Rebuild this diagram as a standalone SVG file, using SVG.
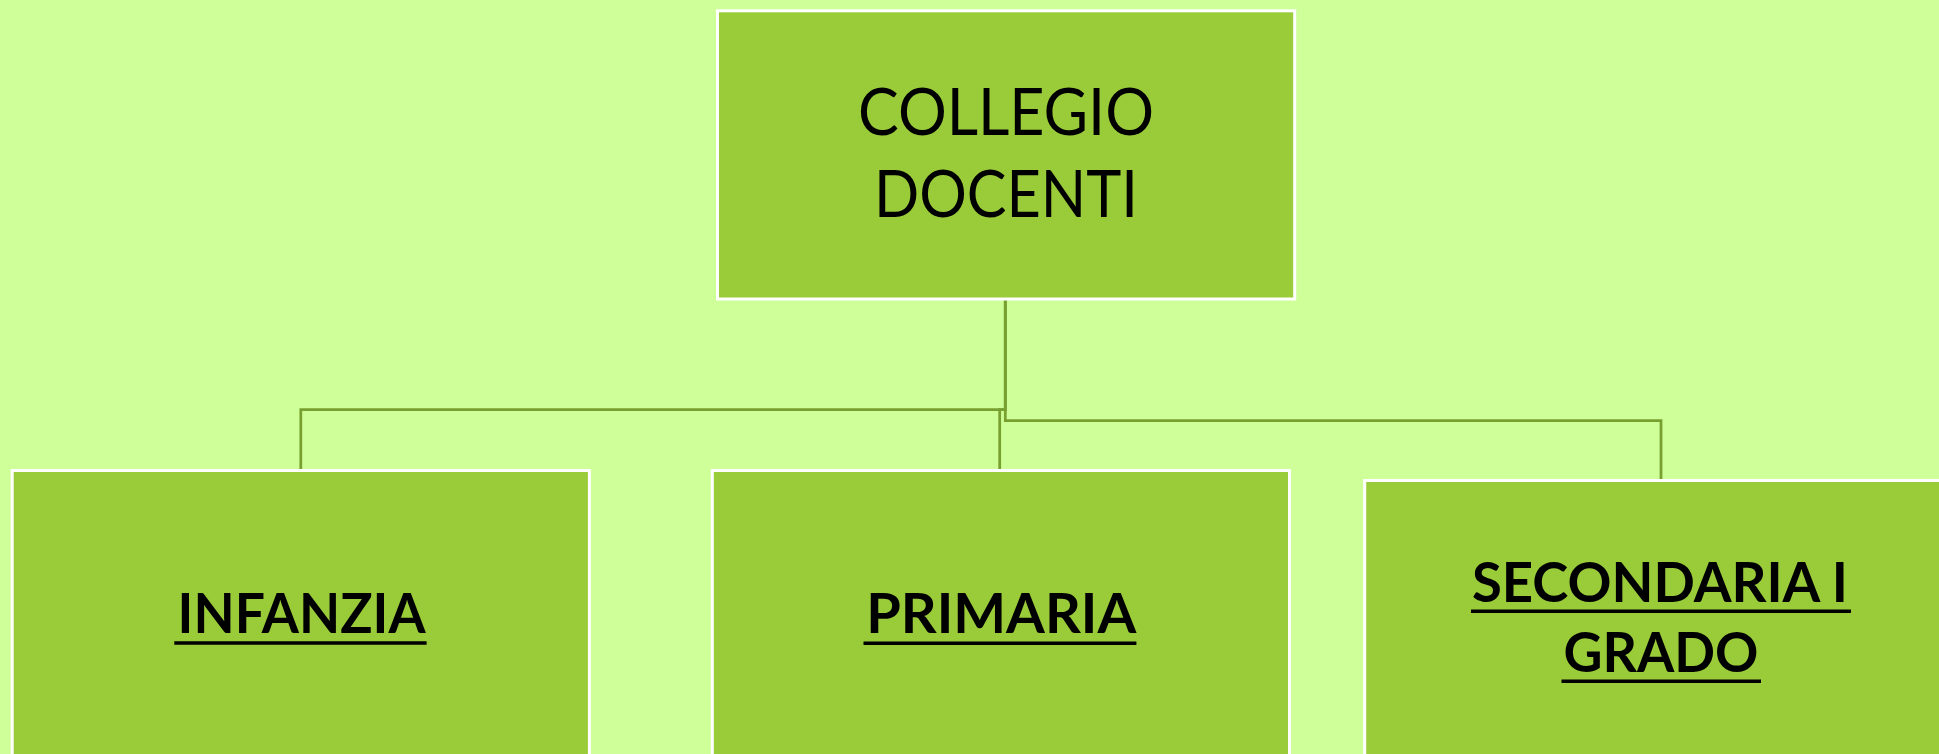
<svg xmlns="http://www.w3.org/2000/svg" width="1939" height="754" viewBox="0 0 1939 754">
  <style>
    .box { fill: #9ACC39; stroke: #FFFFFF; stroke-width: 3; }
    .conn { fill: none; stroke: #78A030; stroke-width: 2.75; }
    .title { font-family: Lato, "Noto Sans", "Liberation Sans", sans-serif; font-size: 65px; fill: #000000; text-anchor: middle; }
    .label { font-family: Lato, "Noto Sans", "Liberation Sans", sans-serif; font-size: 56px; font-weight: bold; fill: #000000; text-anchor: middle; }
    .ul { stroke: #000000; stroke-width: 3.5; }
  </style>
  <rect x="0" y="0" width="1939" height="754" fill="#CFFF99"/>
  <g id="connectors">
    <path class="conn" d="M1005.3,300 V409.5 H300.8 V469"/>
    <path class="conn" d="M1005.3,300 V409.5 H999.7 V469"/>
    <path class="conn" d="M1005.3,300 V420.5 H1661 V479"/>
  </g>
  <g id="collegio-docenti">
    <rect class="box" x="717.5" y="10.8" width="577.2" height="288.2"/>
    <text class="title" x="1006" y="135.3" textLength="296" lengthAdjust="spacingAndGlyphs">COLLEGIO</text>
    <text class="title" x="1006" y="217" textLength="264" lengthAdjust="spacingAndGlyphs">DOCENTI</text>
  </g>
  <g id="infanzia">
    <rect class="box" x="12.2" y="470.5" width="577.2" height="300"/>
    <text class="label" x="301.6" y="633.3" textLength="248" lengthAdjust="spacingAndGlyphs">INFANZIA</text>
    <line class="ul" x1="174.3" y1="643" x2="426.6" y2="643"/>
  </g>
  <g id="primaria">
    <rect class="box" x="712.3" y="470.5" width="577.2" height="300"/>
    <text class="label" x="1001.2" y="633.3" textLength="270" lengthAdjust="spacingAndGlyphs">PRIMARIA</text>
    <line class="ul" x1="863.5" y1="643.3" x2="1136.4" y2="643.3"/>
  </g>
  <g id="secondaria">
    <rect class="box" x="1364.7" y="480.5" width="600" height="300"/>
    <text class="label" x="1660" y="601.7" textLength="376" lengthAdjust="spacingAndGlyphs">SECONDARIA I</text>
    <line class="ul" x1="1471" y1="611.3" x2="1851" y2="611.3"/>
    <text class="label" x="1661" y="671.7" textLength="195" lengthAdjust="spacingAndGlyphs">GRADO</text>
    <line class="ul" x1="1561.5" y1="681.3" x2="1761" y2="681.3"/>
  </g>
</svg>
